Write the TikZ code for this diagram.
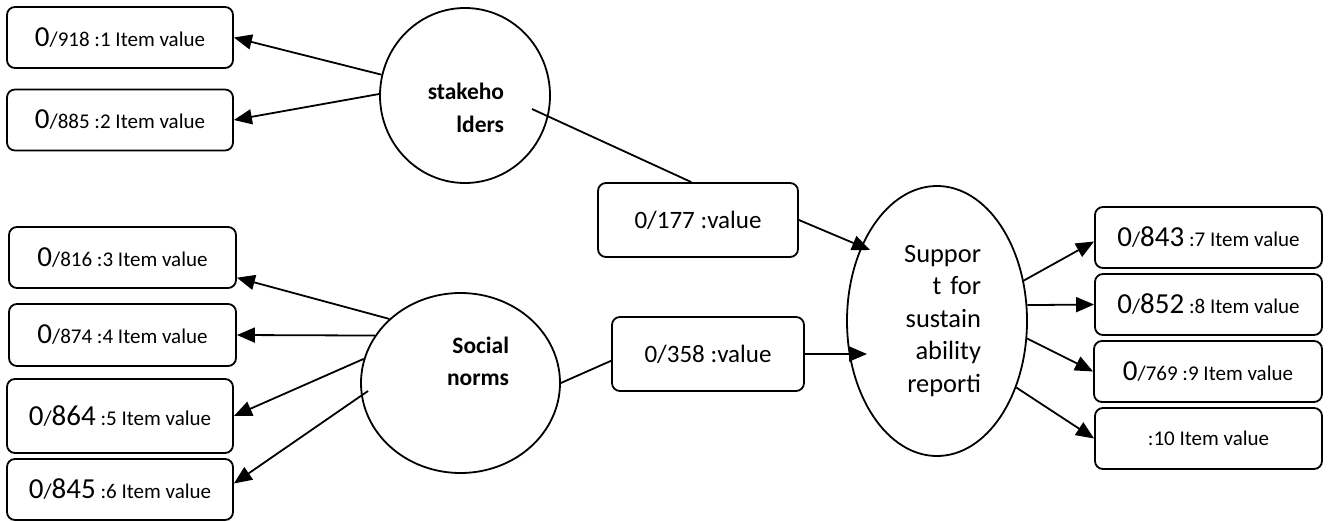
\documentclass[tikz,border=0pt]{standalone}
\usepackage{fontspec}
\setmainfont{Carlito}
\usetikzlibrary{arrows.meta,shapes.geometric}
\newcommand{\bignum}[1]{{\fontsize{29}{34}\selectfont #1}}

\begin{document}
\begin{tikzpicture}[x=1pt,y=-1pt,line width=1.8pt,
    itembox/.style={draw,rounded corners=8pt,minimum width=226pt,minimum height=61pt,
      inner sep=0pt,font=\fontsize{21}{25}\selectfont},
    coefbox/.style={draw,rounded corners=8pt,minimum height=74pt,
      inner sep=0pt,font=\fontsize{25}{30}\selectfont},
    latent/.style={draw,ellipse,inner sep=0pt},
    latentlabel/.style={anchor=east,align=right,inner sep=0pt},
    arr/.style={-{Triangle[length=18pt,width=15pt]}}]
    \useasboundingbox (0,0) rectangle (1328,522);

    % Variables latentes
    \node[latent,minimum width=170pt,minimum height=175pt] (sh) at (465,95.5) {};
    \node[latentlabel,font=\bfseries\fontsize{23.5}{33}\selectfont] (shtext) at (505,108) {stakeho\\lders};
    \node[latent,minimum width=199pt,minimum height=180pt] (sn) at (460.5,383) {};
    \node[latentlabel,font=\bfseries\fontsize{23.5}{32}\selectfont] (sntext) at (510,361) {Social\\norms};
    \node[latent,minimum width=180pt,minimum height=270pt,text width=88pt,align=right,
      font=\fontsize{26.4}{32.5}\selectfont] (sr) at (937,321) {Suppor\\t for\\sustain\\ability\\reporti};

    % Items de la izquierda
    \node[itembox] (b1) at (120,37.5) {\bignum{0}/918 :1 Item value};
    \node[itembox] (b2) at (120,120) {\bignum{0}/885 :2 Item value};
    \node[itembox,minimum width=227pt] (b3) at (122.5,257.5) {\bignum{0}/816 :3 Item value};
    \node[itembox,minimum width=227pt,minimum height=62pt] (b4) at (122.5,335) {\bignum{0}/874 :4 Item value};
    \node[itembox,minimum height=74pt] (b5) at (120,416) {\bignum{0}/\bignum{864} :5 Item value};
    \node[itembox] (b6) at (120,489.5) {\bignum{0}/\bignum{845} :6 Item value};

    % Items de la derecha
    \node[itembox,minimum width=227pt] (b7) at (1208.5,237.5) {\bignum{0}/\bignum{843} :7 Item value};
    \node[itembox,minimum width=227pt] (b8) at (1208.5,304.5) {\bignum{0}/\bignum{852} :8 Item value};
    \node[itembox,minimum width=228pt] (b9) at (1208,371.5) {\bignum{0}/769 :9 Item value};
    \node[itembox,minimum width=227pt] (b10) at (1208.5,438.5) {:10 Item value};

    % Coeficientes
    \node[coefbox,minimum width=200pt] (v177) at (698,220) {0/177 :value};
    \node[coefbox,minimum width=192pt] (v358) at (708,354) {0/358 :value};

    % Puntos interiores
    \coordinate (shout) at (532,109);
    \coordinate (snin) at (368,391);
    \coordinate (srin1) at (870,250);
    \coordinate (srin2) at (867,354);

    % Flechas
    \draw[arr] (sh.166) -- (b1.east);
    \draw[arr] (sh.179) -- (b2.east);
    \draw[arr] (sn.138) -- (b3.-10);
    \draw[arr] (sn.151) -- (b4.east);
    \draw[arr] (sn.166) -- (b5.east);
    \draw[arr] (snin) -- (b6.3);
    \draw[arr] (sr.25) -- (b7.182);
    \draw[arr] (sr.10) -- (b8.west);
    \draw[arr] (sr.-11) -- (b9.west);
    \draw[arr] (sr.-40) -- (b10.west);

    \draw (shout) -- (v177.100);
    \draw[arr] (v177.east) -- (srin1);
    \draw (sn.east) -- (v358.184);
    \draw[arr] (v358.east) -- (srin2);
\end{tikzpicture}
\end{document}
